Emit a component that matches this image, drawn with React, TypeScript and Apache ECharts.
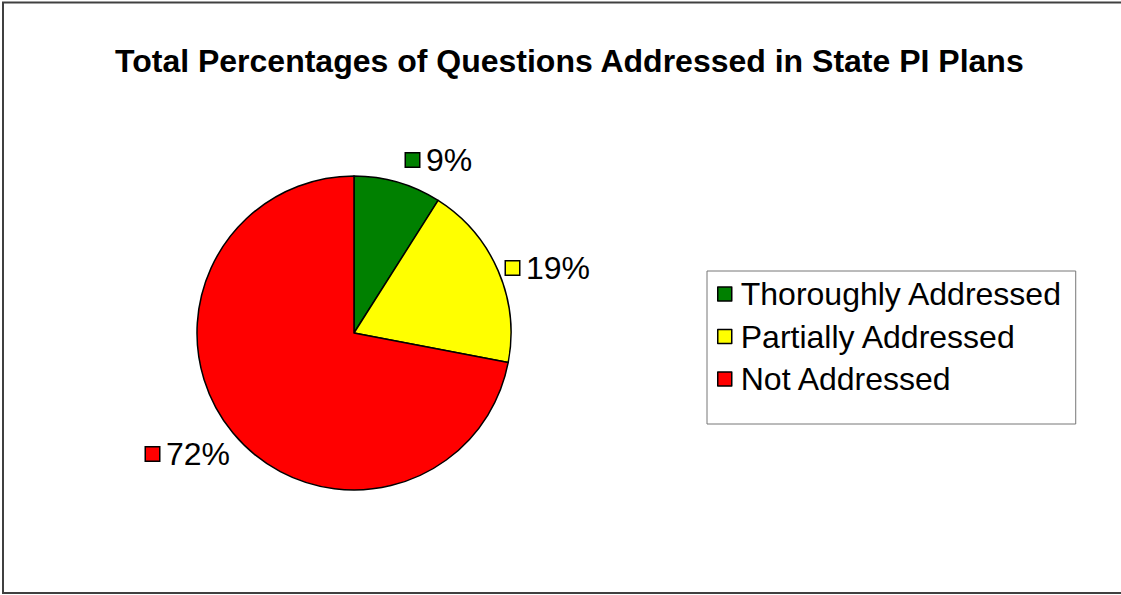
import React, { useEffect, useRef } from "react";
import * as echarts from "echarts";

const TITLE = "Total Percentages of Questions Addressed in State PI Plans";
const categories = ["Thoroughly Addressed", "Partially Addressed", "Not Addressed"];
const values = [9, 19, 72];
const colors = ["#008000", "#FFFF00", "#FF0000"];

// label anchor positions (left edge, vertical middle) in pixels
const LABEL_POS: [number, number][] = [
  [406, 160],
  [506, 268],
  [146, 454],
];

const FONT = "'Liberation Sans', Arial, sans-serif";

export default function App() {
  const ref = useRef<HTMLDivElement>(null);
  useEffect(() => {
    if (!ref.current) return;
    const chart = echarts.init(ref.current, null, { renderer: "svg" });
    const total = values.reduce((a, b) => a + b, 0);
    chart.setOption({
      animation: false,
      backgroundColor: "#ffffff",
      title: {
        text: TITLE,
        left: 115,
        top: 45,
        padding: 0,
        textStyle: { fontFamily: FONT, fontSize: 32, fontWeight: "bold", color: "#000" },
      },
      legend: {
        orient: "vertical",
        left: 707,
        top: 271,
        padding: [7, 13, 29, 10],
        itemWidth: 14,
        itemHeight: 14,
        itemGap: 10.5,
        icon: "rect",
        borderColor: "#777",
        borderWidth: 1,
        backgroundColor: "#fff",
        textStyle: { fontFamily: FONT, fontSize: 32, color: "#000", lineHeight: 32, padding: [0, 0, 0, 4] },
        itemStyle: { borderColor: "#000", borderWidth: 1.5 },
        data: categories,
      },
      graphic: [
        {
          type: "rect",
          shape: { x: 3, y: 2.5, width: 1130, height: 590.5 },
          style: { fill: "none", stroke: "#404040", lineWidth: 2 },
          silent: true,
        },
      ],
      series: [
        {
          type: "pie",
          center: [354, 333],
          radius: 157,
          startAngle: 90,
          clockwise: true,
          data: categories.map((c, i) => ({
            name: c,
            value: values[i],
            itemStyle: { color: colors[i] },
          })),
          itemStyle: { borderColor: "#000", borderWidth: 1.5 },
          emphasis: { disabled: true },
          labelLine: { show: false },
          label: {
            show: true,
            position: "outside",
            formatter: (p: any) => `{m| }{t|${Math.round((p.value / total) * 100)}%}`,
            rich: {
              m: {
                width: 13,
                height: 13,
                borderColor: "#000",
                borderWidth: 1.5,
                backgroundColor: "inherit",
              },
              t: { fontFamily: FONT, fontSize: 32, color: "#000", padding: [0, 0, 0, 7], lineHeight: 32 },
            },
          },
          labelLayout: (params: any) => ({
            x: LABEL_POS[params.dataIndex][0],
            y: LABEL_POS[params.dataIndex][1],
            align: "left",
            verticalAlign: "middle",
          }),
        },
      ],
    });
    return () => chart.dispose();
  }, []);
  return (
    <div
      ref={ref}
      style={{ position: "fixed", left: 0, top: 0, width: 1121, height: 595, background: "#fff" }}
    />
  );
}
